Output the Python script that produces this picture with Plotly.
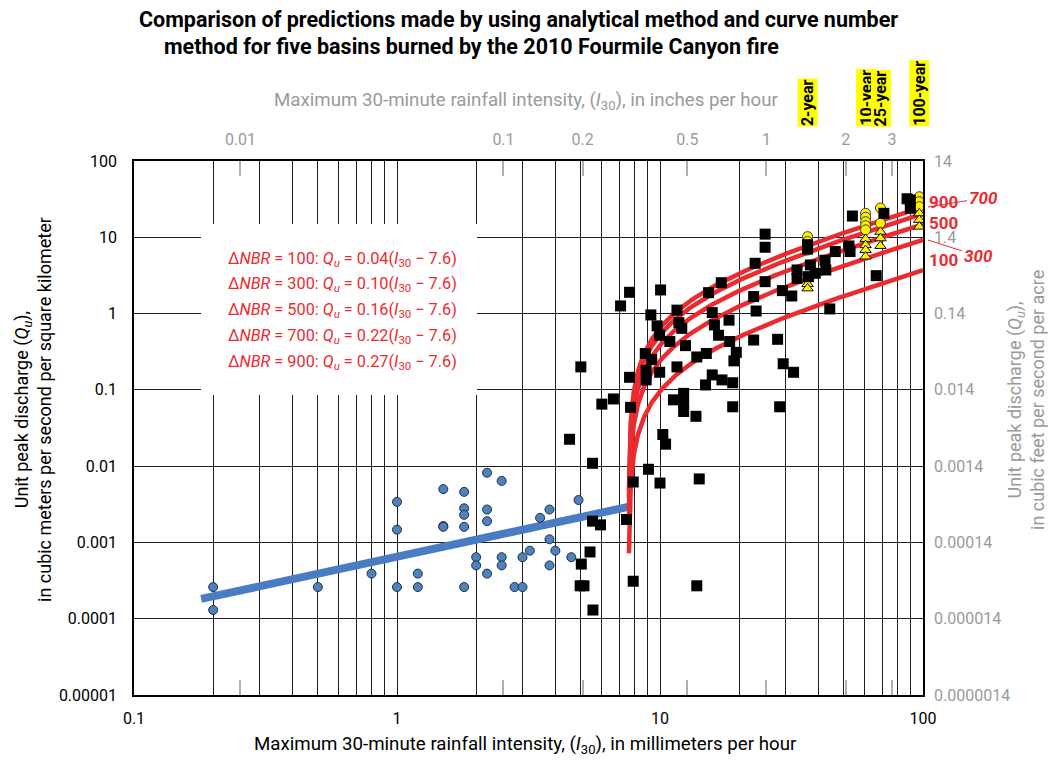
import numpy as np
import plotly.graph_objects as go

FONT = "Roboto, Liberation Sans, sans-serif"
GREY = "#9a9a9a"
RED = "#ec2a2f"

# Unit conversions used by the secondary axes
MM_PER_IN = 25.4
CFS_ACRE_PER_CMS_KM2 = 0.14

# Unburned-condition observations (blue circles): I30 in mm/h, Qu in m3/s/km2
blue_i30 = [0.2, 0.2, 0.5, 0.8, 1.0, 1.0, 1.0, 1.2, 1.2, 1.5, 1.5, 1.5,
            1.8, 1.8, 1.8, 1.8, 1.8, 2.2, 2.5, 2.2, 2.2, 2.0, 2.0, 2.2,
            2.5, 2.5, 3.0, 3.2, 2.8, 3.0, 3.5, 3.8, 3.8, 4.0, 3.8, 4.6, 4.9]
blue_qu = [0.00026, 0.00013, 0.00026, 0.00039, 0.0034, 0.00147, 0.00026,
           0.00039, 0.00026, 0.0050, 0.00164, 0.0016, 0.0046, 0.0028, 0.0023,
           0.0016, 0.00026, 0.0082, 0.0064, 0.0027, 0.0019, 0.00064, 0.0005,
           0.00039, 0.00064, 0.0005, 0.00064, 0.00078, 0.00026, 0.00026,
           0.0021, 0.0027, 0.0011, 0.00078, 0.0005, 0.00064, 0.0036]

# Regression line through the unburned observations
unburned_line_i30 = [0.18, 7.57]
unburned_line_qu = [0.000182, 0.00292]

# Post-fire observations (black squares)
post_i30 = [4.53, 5.54, 5.0, 6.01, 6.65, 7.73, 7.91, 9.04, 10.0, 10.25, 10.5,
            11.25, 12.3, 12.3, 12.3, 13.7, 5.54, 5.94, 7.46, 5.42, 5.02, 4.97,
            5.14, 5.56, 7.91, 13.8, 14.1, 7.66, 7.08, 10.05, 7.66, 8.79, 8.86,
            8.86, 9.3, 9.97, 9.23, 9.75, 9.97, 10.9, 11.6, 11.8, 12.1, 12.5,
            11.6, 13.8, 15.0, 14.9, 15.3, 15.8, 16.1, 16.7, 15.8, 17.2, 18.9,
            17.1, 18.3, 18.4, 19.5, 19.1, 18.9, 23.0, 22.7, 23.2, 25.1, 22.7,
            28.0, 29.4, 32.2, 28.5, 29.2, 31.7, 25.1, 25.1, 33.2, 33.2, 36.7,
            37.3, 38.9, 42.4, 42.7, 46.4, 52.3, 52.8, 53.9, 44.2, 66.4, 71.0,
            89.5, 89.5, 87.0, 36.4, 36.4]
post_qu = [0.0225, 0.0109, 0.20, 0.065, 0.076, 0.059, 0.0062, 0.0091, 0.006,
           0.026, 0.0194, 0.074, 0.09, 0.066, 0.052, 0.045, 0.0019, 0.0017,
           0.002, 0.00075, 0.00052, 0.00027, 0.00027, 0.00013, 0.00031,
           0.00027, 0.0068, 1.9, 1.26, 2.04, 0.146, 0.30, 0.18, 0.135, 0.25,
           0.17, 0.96, 0.69, 0.52, 0.43, 1.11, 0.76, 0.64, 0.38, 0.2, 0.27,
           0.30, 0.116, 1.88, 1.03, 0.71, 0.52, 0.157, 0.135, 0.124, 2.54,
           0.82, 0.43, 0.31, 0.24, 0.06, 4.56, 1.67, 1.08, 2.62, 0.45, 0.46,
           0.22, 0.17, 0.06, 2.0, 1.7, 11.0, 7.4, 3.73, 2.9, 3.05, 4.34, 3.37,
           5.0, 3.73, 6.5, 7.7, 6.5, 19.0, 1.15, 3.14, 20.6, 30.8, 24.0, 32.0,
           8.0, 7.0]

# Design storms
storm_labels = ["2-year", "10-year", "25-year", "100-year"]
storm_i30 = [36.4, 60.5, 68.9, 96.8]

# Analytical-method predictions at the design storms (yellow circles)
circle_i30 = [36.4, 36.4, 36.4, 60.5, 60.5, 60.5, 60.5, 60.5,
              68.9, 68.9, 96.8, 96.8, 96.8]
circle_qu = [10.2, 8.8, 6.8, 20.6, 18.3, 16.0, 14.2, 12.5,
             24.2, 15.3, 34.0, 29.3, 25.2]

# Curve-number predictions at the design storms (yellow triangles)
tri_i30 = [36.4, 36.4, 60.5, 60.5, 60.5, 60.5, 68.9, 68.9, 68.9,
           96.8, 96.8, 96.8]
tri_qu = [2.44, 2.14, 9.5, 7.9, 6.8, 5.6, 11.8, 9.7, 7.7,
          20.6, 16.9, 13.8]

# Burn-severity relations Qu = a (I30 - 7.6)
dnbr = [100, 300, 500, 700, 900]
coef = [0.04, 0.10, 0.16, 0.22, 0.27]
i30_threshold = 7.6

# Axis tick values
x_grid = [0.1, 0.2, 0.3, 0.4, 0.5, 0.6, 0.7, 0.8, 0.9,
          1, 2, 3, 4, 5, 6, 7, 8, 9,
          10, 20, 30, 40, 50, 60, 70, 80, 90, 100]
x_labels = {0.1: "0.1", 1: "1", 10: "10", 100: "100"}
y_ticks = [1e-5, 1e-4, 1e-3, 1e-2, 1e-1, 1, 10, 100]
y_labels = ["0.00001", "0.0001", "0.001", "0.01", "0.1", "1", "10", "100"]
y2_labels = ["0.0000014", "0.000014", "0.00014", "0.0014", "0.014",
             "0.14", "1.4", "14"]
in_ticks = [0.01, 0.1, 0.2, 0.5, 1, 2, 3]
in_labels = ["0.01", "0.1", "0.2", "0.5", "1", "2", "3"]

fig = go.Figure()

fig.add_trace(go.Scatter(
    x=unburned_line_i30, y=unburned_line_qu, mode="lines",
    line=dict(color="#4a7cc1", width=8), showlegend=False))

offsets = np.geomspace(0.018, 100 - i30_threshold, 300)
for d, a in zip(dnbr, coef):
    fig.add_trace(go.Scatter(
        x=i30_threshold + offsets, y=a * offsets, mode="lines",
        line=dict(color=RED, width=4.5), name=f"dNBR {d}", showlegend=False))

fig.add_trace(go.Scatter(
    x=blue_i30, y=blue_qu, mode="markers",
    marker=dict(symbol="circle", size=9, color="#4f81bd",
                line=dict(color="#1d3047", width=1)), showlegend=False))

fig.add_trace(go.Scatter(
    x=circle_i30, y=circle_qu, mode="markers",
    marker=dict(symbol="circle", size=10, color="#fff000",
                line=dict(color="#3a3a3a", width=1)), showlegend=False))

fig.add_trace(go.Scatter(
    x=tri_i30, y=tri_qu, mode="markers",
    marker=dict(symbol="triangle-up", size=10, color="#fff000",
                line=dict(color="#111111", width=1)), showlegend=False))

fig.add_trace(go.Scatter(
    x=post_i30, y=post_qu, mode="markers",
    marker=dict(symbol="square", size=11, color="black",
                line=dict(color="black", width=0)), showlegend=False))

# Empty trace that carries the secondary (inch / cfs-per-acre) axes
fig.add_trace(go.Scatter(x=[None], y=[None], xaxis="x2", yaxis="y2",
                         showlegend=False, hoverinfo="skip"))

fig.update_layout(
    width=1055, height=762,
    margin=dict(l=134, r=132, t=161, b=67),
    paper_bgcolor="white", plot_bgcolor="white",
    font=dict(family=FONT, size=16, color="black"),
    xaxis=dict(
        type="log", range=[-1, 2],
        tickvals=x_grid, ticktext=[x_labels.get(v, "") for v in x_grid],
        showgrid=True, gridcolor="#1e1e1e", gridwidth=1,
        showline=True, linecolor="black", linewidth=1.5, mirror=True,
        ticks="", zeroline=False, ticklabelstandoff=8,
        tickfont=dict(size=16, color="black")),
    yaxis=dict(
        type="log", range=[-5, 2],
        tickvals=y_ticks, ticktext=y_labels,
        showgrid=True, gridcolor="#1e1e1e", gridwidth=1,
        showline=True, linecolor="black", linewidth=1.5, mirror=True,
        ticks="", zeroline=False, ticklabelstandoff=12,
        tickfont=dict(size=16, color="black")),
    xaxis2=dict(
        type="log", overlaying="x", side="top",
        range=[np.log10(0.1 / MM_PER_IN), np.log10(100 / MM_PER_IN)],
        tickvals=in_ticks, ticktext=in_labels,
        ticks="inside", ticklen=15, tickwidth=1.5, tickcolor="#b0b0b0",
        mirror="ticks", showline=False, showgrid=False, zeroline=False,
        ticklabelstandoff=12, tickfont=dict(size=16, color=GREY)),
    yaxis2=dict(
        type="log", overlaying="y", side="right",
        range=[np.log10(1e-5 * CFS_ACRE_PER_CMS_KM2),
               np.log10(100 * CFS_ACRE_PER_CMS_KM2)],
        tickvals=[v * CFS_ACRE_PER_CMS_KM2 for v in y_ticks],
        ticktext=y2_labels,
        ticks="", showline=False, showgrid=False, zeroline=False,
        ticklabelstandoff=10, tickfont=dict(size=16, color=GREY)),
)


def px_x(px):
    return (px - 134) / 789.0


def px_y(py):
    return (695 - py) / 534.0


# White panel behind the equation block (hides the grid there)
fig.add_annotation(text=" ", xref="paper", yref="paper",
                   x=px_x(201), y=px_y(224), xanchor="left", yanchor="top",
                   width=276, height=171, bgcolor="white", borderpad=0,
                   borderwidth=0, showarrow=False)

# Title
fig.add_annotation(text="<b>Comparison of predictions made by using analytical method and curve number</b>",
                   xref="paper", yref="paper", x=px_x(137), y=px_y(20),
                   xanchor="left", yanchor="middle", showarrow=False,
                   font=dict(size=21.5, color="black"))
fig.add_annotation(text="<b>method for five basins burned by the 2010 Fourmile Canyon fire</b>",
                   xref="paper", yref="paper", x=px_x(162), y=px_y(47),
                   xanchor="left", yanchor="middle", showarrow=False,
                   font=dict(size=21.5, color="black"))

# Axis titles
fig.add_annotation(text="Maximum 30-minute rainfall intensity, (<i>I</i><sub>30</sub>), in millimeters per hour",
                   xref="paper", yref="paper", x=px_x(525), y=px_y(745),
                   xanchor="center", yanchor="middle", showarrow=False,
                   font=dict(size=18.7, color="black"))
fig.add_annotation(text="Maximum 30-minute rainfall intensity, (<i>I</i><sub>30</sub>), in inches per hour",
                   xref="paper", yref="paper", x=px_x(526), y=px_y(101),
                   xanchor="center", yanchor="middle", showarrow=False,
                   font=dict(size=18.7, color=GREY))
fig.add_annotation(text="Unit peak discharge (<i>Q<sub>u</sub></i>),<br>in cubic meters per second per square kilometer",
                   xref="paper", yref="paper", x=px_x(33), y=px_y(410),
                   xanchor="center", yanchor="middle", showarrow=False,
                   textangle=-90, font=dict(size=18, color="black"))
fig.add_annotation(text="Unit peak discharge (<i>Q<sub>u</sub></i>),<br>in cubic feet per second per acre",
                   xref="paper", yref="paper", x=px_x(1026), y=px_y(400),
                   xanchor="center", yanchor="middle", showarrow=False,
                   textangle=-90, font=dict(size=18, color=GREY))

# Equation block
for k, (d, a) in enumerate(zip(dnbr, coef)):
    fig.add_annotation(
        text=(f"\u0394<i>NBR</i> = {d}: <i>Q<sub>u</sub></i> = {a:.2f}"
              f"(<i>I</i><sub>30</sub> \u2212 {i30_threshold})"),
        xref="paper", yref="paper", x=px_x(226), y=px_y(259 + 25.8 * k),
        xanchor="left", yanchor="middle", showarrow=False,
        font=dict(size=16.3, color=RED))

# Design-storm labels
for lab, xi in zip(storm_labels, storm_i30):
    fig.add_annotation(text=f"<b>{lab}</b>", xref="x", yref="paper",
                       x=np.log10(xi), y=px_y(127), xanchor="center",
                       yanchor="bottom", showarrow=False, textangle=-90,
                       bgcolor="#ffff00", borderpad=0,
                       font=dict(size=16, color="black"))

# dNBR labels at the right end of the curves
fig.add_annotation(text="<b>900</b>", xref="paper", yref="paper",
                   x=px_x(927), y=px_y(202), xanchor="left", yanchor="middle",
                   showarrow=False, font=dict(size=17, color=RED))
fig.add_annotation(text="<b>500</b>", xref="paper", yref="paper",
                   x=px_x(927), y=px_y(223), xanchor="left", yanchor="middle",
                   showarrow=False, font=dict(size=17, color=RED))
fig.add_annotation(text="<b>100</b>", xref="paper", yref="paper",
                   x=px_x(927), y=px_y(260), xanchor="left", yanchor="middle",
                   showarrow=False, font=dict(size=17, color=RED))
fig.add_annotation(text="<b><i>700</i></b>", xref="paper", yref="paper",
                   x=px_x(928), y=px_y(207), ax=55, ay=-9,
                   showarrow=True, arrowhead=0, arrowwidth=1, arrowcolor=RED,
                   font=dict(size=17, color=RED))
fig.add_annotation(text="<b><i>300</i></b>", xref="paper", yref="paper",
                   x=px_x(928), y=px_y(240), ax=50, ay=16,
                   showarrow=True, arrowhead=0, arrowwidth=1, arrowcolor=RED,
                   font=dict(size=17, color=RED))

fig.write_html("out.html")
